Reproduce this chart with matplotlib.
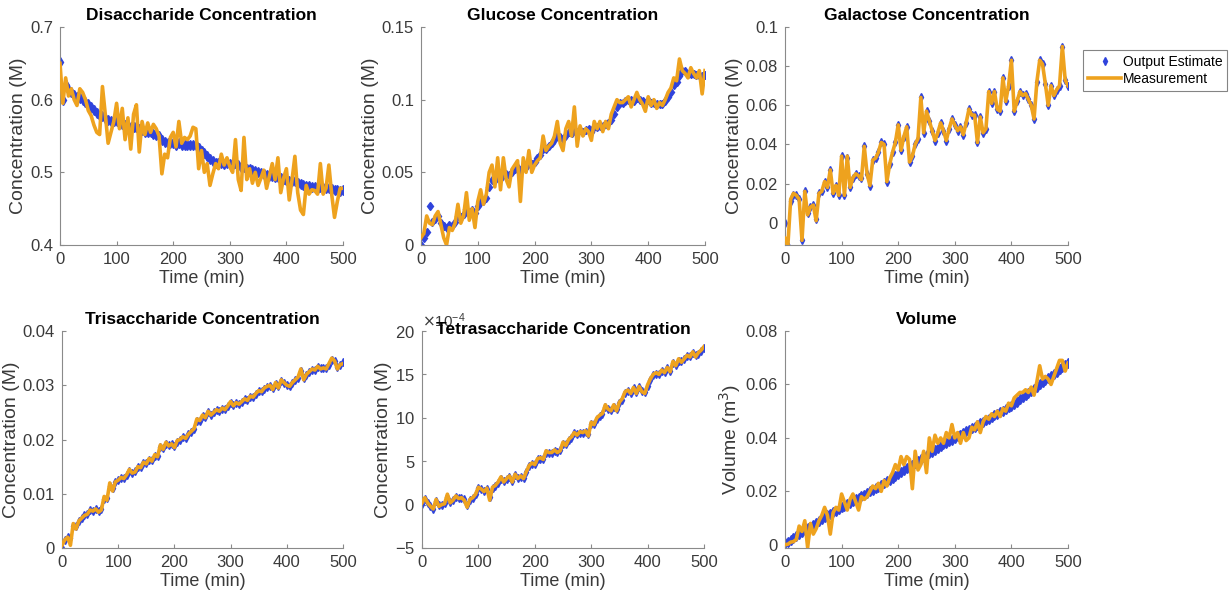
import numpy as np
import matplotlib
matplotlib.use("Agg")
import matplotlib.pyplot as plt
from matplotlib.ticker import ScalarFormatter, FormatStrFormatter

plt.rcParams["font.family"] = ["Liberation Sans", "DejaVu Sans"]

# sample times (min), one point every 5 min
time_min = np.arange(0, 505, 5)

# --- Disaccharide (M)
di_meas = [
    0.650, 0.595, 0.630, 0.605, 0.615, 0.600, 0.592, 0.615, 0.610, 0.600,
    0.585, 0.578, 0.565, 0.555, 0.552, 0.618, 0.580, 0.540, 0.555, 0.570,
    0.595, 0.560, 0.588, 0.545, 0.575, 0.532, 0.580, 0.593, 0.528, 0.570,
    0.552, 0.568, 0.555, 0.566, 0.560, 0.550, 0.498, 0.525, 0.520, 0.548,
    0.555, 0.535, 0.570, 0.540, 0.548, 0.545, 0.550, 0.562, 0.560, 0.505,
    0.530, 0.500, 0.512, 0.482, 0.498, 0.512, 0.505, 0.525, 0.510, 0.520,
    0.508, 0.500, 0.545, 0.490, 0.475, 0.548, 0.490, 0.505, 0.485, 0.500,
    0.482, 0.492, 0.503, 0.478, 0.495, 0.512, 0.490, 0.520, 0.472, 0.492,
    0.505, 0.462, 0.490, 0.522, 0.472, 0.448, 0.442, 0.482, 0.470, 0.476,
    0.475, 0.470, 0.512, 0.470, 0.478, 0.510, 0.470, 0.438, 0.460, 0.478,
    0.478,
]
di_est = [
    0.652, 0.600, 0.620, 0.615, 0.610, 0.607, 0.604, 0.602, 0.600, 0.597,
    0.594, 0.590, 0.586, 0.582, 0.578, 0.578, 0.575, 0.572, 0.570, 0.570,
    0.570, 0.568, 0.567, 0.565, 0.563, 0.562, 0.562, 0.562, 0.560, 0.558,
    0.556, 0.555, 0.555, 0.553, 0.552, 0.550, 0.545, 0.542, 0.540, 0.540,
    0.540, 0.538, 0.540, 0.538, 0.537, 0.537, 0.538, 0.538, 0.538, 0.533,
    0.530, 0.526, 0.522, 0.518, 0.515, 0.513, 0.513, 0.513, 0.512, 0.513,
    0.512, 0.512, 0.513, 0.510, 0.508, 0.508, 0.505, 0.504, 0.503, 0.502,
    0.500, 0.499, 0.498, 0.496, 0.495, 0.495, 0.494, 0.494, 0.492, 0.491,
    0.490, 0.488, 0.488, 0.488, 0.486, 0.484, 0.482, 0.481, 0.481, 0.480,
    0.480, 0.479, 0.480, 0.479, 0.479, 0.478, 0.477, 0.476, 0.476, 0.475,
    0.476,
]

# --- Glucose (M)
glu_meas = [
    0.005, 0.008, 0.020, 0.015, 0.014, 0.020, 0.023, 0.014, 0.005, 0.000,
    0.012, 0.010, 0.015, 0.028, 0.015, 0.020, 0.036, 0.017, 0.025, 0.012,
    0.030, 0.038, 0.028, 0.035, 0.050, 0.055, 0.040, 0.060, 0.038, 0.060,
    0.045, 0.040, 0.052, 0.055, 0.058, 0.030, 0.060, 0.050, 0.065, 0.050,
    0.055, 0.058, 0.060, 0.075, 0.065, 0.068, 0.070, 0.075, 0.085, 0.070,
    0.065, 0.080, 0.085, 0.075, 0.095, 0.068, 0.082, 0.075, 0.080, 0.078,
    0.072, 0.085, 0.080, 0.085, 0.078, 0.085, 0.080, 0.090, 0.095, 0.100,
    0.098, 0.098, 0.100, 0.102, 0.095, 0.100, 0.105, 0.100, 0.097, 0.092,
    0.102, 0.096, 0.100, 0.094, 0.098, 0.096, 0.100, 0.105, 0.108, 0.115,
    0.113, 0.128, 0.120, 0.118, 0.115, 0.122, 0.118, 0.115, 0.120, 0.104,
    0.120,
]
glu_est = [
    0.000, 0.005, 0.009, 0.027, 0.016, 0.018, 0.020, 0.015, 0.013, 0.012,
    0.014, 0.013, 0.016, 0.020, 0.019, 0.021, 0.025, 0.022, 0.024, 0.022,
    0.027, 0.030, 0.030, 0.032, 0.040, 0.045, 0.045, 0.048, 0.046, 0.050,
    0.049, 0.048, 0.050, 0.052, 0.053, 0.050, 0.054, 0.054, 0.057, 0.056,
    0.057, 0.060, 0.062, 0.066, 0.066, 0.068, 0.070, 0.072, 0.075, 0.074,
    0.073, 0.076, 0.078, 0.077, 0.080, 0.077, 0.079, 0.078, 0.079, 0.080,
    0.078, 0.081, 0.081, 0.082, 0.082, 0.083, 0.084, 0.086, 0.090, 0.095,
    0.098, 0.098, 0.099, 0.100, 0.100, 0.099, 0.101, 0.100, 0.099, 0.098,
    0.100, 0.098, 0.098, 0.097, 0.097, 0.097, 0.099, 0.102, 0.105, 0.110,
    0.112, 0.116, 0.120, 0.120, 0.118, 0.118, 0.118, 0.117, 0.117, 0.116,
    0.117,
]

# --- Galactose (M)
gal_meas = [
    -0.008, -0.012, 0.012, 0.015, 0.014, 0.012, -0.009, 0.016, 0.004, 0.008,
    0.009, 0.001, 0.015, 0.016, 0.021, 0.018, 0.027, 0.015, 0.019, 0.014,
    0.034, 0.014, 0.034, 0.018, 0.023, 0.025, 0.024, 0.022, 0.039, 0.025,
    0.019, 0.032, 0.033, 0.036, 0.041, 0.040, 0.021, 0.030, 0.036, 0.041,
    0.050, 0.037, 0.044, 0.049, 0.031, 0.034, 0.040, 0.043, 0.064, 0.046,
    0.057, 0.052, 0.047, 0.042, 0.046, 0.051, 0.047, 0.042, 0.048, 0.053,
    0.050, 0.047, 0.049, 0.045, 0.051, 0.058, 0.055, 0.055, 0.041, 0.054,
    0.046, 0.048, 0.067, 0.061, 0.067, 0.058, 0.057, 0.074, 0.062, 0.070,
    0.083, 0.057, 0.062, 0.067, 0.065, 0.066, 0.063, 0.060, 0.053, 0.072,
    0.083, 0.081, 0.071, 0.060, 0.070, 0.065, 0.068, 0.070, 0.090, 0.073,
    0.070,
]
gal_est = [
    0.000, -0.012, 0.011, 0.014, 0.014, 0.012, -0.009, 0.016, 0.005, 0.008,
    0.009, 0.002, 0.015, 0.016, 0.021, 0.018, 0.027, 0.015, 0.019, 0.014,
    0.034, 0.014, 0.033, 0.018, 0.023, 0.025, 0.024, 0.023, 0.039, 0.025,
    0.019, 0.032, 0.033, 0.036, 0.041, 0.040, 0.021, 0.030, 0.036, 0.041,
    0.050, 0.037, 0.044, 0.049, 0.031, 0.034, 0.040, 0.043, 0.064, 0.046,
    0.057, 0.052, 0.047, 0.042, 0.046, 0.051, 0.047, 0.042, 0.048, 0.053,
    0.050, 0.047, 0.049, 0.045, 0.051, 0.058, 0.055, 0.055, 0.041, 0.054,
    0.046, 0.048, 0.067, 0.061, 0.067, 0.058, 0.057, 0.074, 0.062, 0.070,
    0.083, 0.057, 0.062, 0.067, 0.065, 0.066, 0.063, 0.060, 0.053, 0.072,
    0.083, 0.081, 0.071, 0.060, 0.070, 0.065, 0.068, 0.070, 0.090, 0.073,
    0.070,
]

# --- Trisaccharide (M)
tri_meas = [
    0.0005, 0.0015, 0.0020, 0.0005, 0.0045, 0.0035, 0.0050, 0.0055, 0.0060, 0.0062,
    0.0070, 0.0068, 0.0072, 0.0066, 0.0070, 0.0095, 0.0088, 0.0120, 0.0105, 0.0122,
    0.0125, 0.0130, 0.0128, 0.0135, 0.0145, 0.0138, 0.0140, 0.0150, 0.0148, 0.0158,
    0.0155, 0.0165, 0.0160, 0.0172, 0.0168, 0.0190, 0.0182, 0.0195, 0.0188, 0.0192,
    0.0185, 0.0198, 0.0200, 0.0205, 0.0202, 0.0210, 0.0215, 0.0220, 0.0238, 0.0235,
    0.0245, 0.0240, 0.0252, 0.0245, 0.0250, 0.0255, 0.0252, 0.0258, 0.0255, 0.0262,
    0.0270, 0.0262, 0.0268, 0.0265, 0.0270, 0.0275, 0.0272, 0.0280, 0.0278, 0.0285,
    0.0290, 0.0288, 0.0295, 0.0298, 0.0300, 0.0292, 0.0305, 0.0295, 0.0310, 0.0305,
    0.0300, 0.0298, 0.0305, 0.0310, 0.0315, 0.0330, 0.0310, 0.0320, 0.0325, 0.0330,
    0.0328, 0.0335, 0.0330, 0.0332, 0.0330, 0.0340, 0.0350, 0.0345, 0.0330, 0.0338,
    0.0340,
]
tri_est = [
    0.0000, 0.0014, 0.0020, 0.0018, 0.0040, 0.0040, 0.0050, 0.0055, 0.0060, 0.0063,
    0.0070, 0.0069, 0.0071, 0.0068, 0.0071, 0.0090, 0.0092, 0.0115, 0.0110, 0.0121,
    0.0125, 0.0129, 0.0129, 0.0134, 0.0142, 0.0139, 0.0142, 0.0149, 0.0149, 0.0156,
    0.0156, 0.0163, 0.0162, 0.0170, 0.0170, 0.0186, 0.0184, 0.0192, 0.0189, 0.0191,
    0.0188, 0.0196, 0.0200, 0.0204, 0.0203, 0.0210, 0.0214, 0.0220, 0.0234, 0.0235,
    0.0243, 0.0242, 0.0250, 0.0246, 0.0250, 0.0254, 0.0253, 0.0257, 0.0256, 0.0262,
    0.0268, 0.0264, 0.0267, 0.0266, 0.0270, 0.0274, 0.0273, 0.0279, 0.0279, 0.0284,
    0.0289, 0.0289, 0.0294, 0.0297, 0.0299, 0.0295, 0.0303, 0.0298, 0.0307, 0.0305,
    0.0301, 0.0299, 0.0304, 0.0309, 0.0314, 0.0326, 0.0314, 0.0319, 0.0324, 0.0329,
    0.0328, 0.0333, 0.0331, 0.0332, 0.0331, 0.0338, 0.0346, 0.0344, 0.0333, 0.0338,
    0.0342,
]

# --- Tetrasaccharide, in units of 1e-4 M
tetra_meas_e4 = [
    0.2, 0.8, 0.2, -0.2, -0.5, 0.6, -0.2, 0.0, 0.1, 1.2,
    0.2, 0.5, 1.0, 0.7, 0.8, 0.5, -0.3, 0.6, 0.8, 1.2,
    2.0, 1.8, 1.5, 1.9, 0.5, 2.0, 2.2, 2.6, 3.2, 2.6,
    3.0, 3.3, 2.6, 3.5, 3.0, 3.3, 3.0, 3.8, 4.5, 4.8,
    4.6, 5.3, 5.4, 5.2, 6.2, 6.0, 6.0, 6.3, 6.0, 6.2,
    7.2, 6.8, 7.5, 7.8, 8.3, 8.0, 8.4, 8.3, 8.5, 7.9,
    9.5, 9.2, 10.0, 10.3, 10.5, 11.5, 11.0, 10.8, 11.5, 10.8,
    11.8, 12.2, 13.0, 13.2, 12.8, 13.5, 12.8, 13.6, 13.0, 12.8,
    13.8, 14.5, 15.0, 15.2, 15.0, 15.5, 15.2, 15.8, 15.3, 16.5,
    16.0, 16.8, 16.4, 16.8, 17.2, 17.0, 17.6, 17.0, 17.5, 17.8,
    18.2,
]
tetra_est_e4 = [
    0.1, 0.6, 0.2, -0.2, -0.5, 0.4, -0.1, 0.0, 0.2, 0.9,
    0.3, 0.5, 0.9, 0.8, 0.8, 0.6, 0.0, 0.5, 0.8, 1.2,
    1.9, 1.8, 1.6, 1.8, 0.9, 1.9, 2.1, 2.5, 3.0, 2.7,
    2.9, 3.2, 2.7, 3.4, 3.1, 3.2, 3.1, 3.7, 4.4, 4.7,
    4.7, 5.2, 5.3, 5.3, 6.0, 6.0, 6.0, 6.2, 6.1, 6.3,
    7.0, 7.0, 7.4, 7.7, 8.2, 8.1, 8.3, 8.3, 8.4, 8.1,
    9.3, 9.3, 9.9, 10.2, 10.4, 11.2, 11.0, 10.9, 11.3, 11.0,
    11.7, 12.1, 12.9, 13.1, 12.9, 13.4, 13.0, 13.5, 13.1, 13.0,
    13.7, 14.4, 14.9, 15.1, 15.1, 15.4, 15.3, 15.7, 15.4, 16.3,
    16.1, 16.6, 16.5, 16.8, 17.1, 17.1, 17.5, 17.2, 17.4, 17.7,
    18.0,
]

# --- Volume (m^3)
vol_meas = [
    0.0000, 0.0002, 0.0010, 0.0012, 0.0020, 0.0070, 0.0050, 0.0090, -0.0010, 0.0080,
    0.0040, 0.0060, 0.0090, 0.0110, 0.0140, 0.0110, 0.0040, 0.0120, 0.0140, 0.0130,
    0.0190, 0.0160, 0.0130, 0.0170, 0.0190, 0.0160, 0.0130, 0.0180, 0.0170, 0.0180,
    0.0200, 0.0220, 0.0210, 0.0230, 0.0200, 0.0240, 0.0220, 0.0250, 0.0270, 0.0300,
    0.0280, 0.0330, 0.0300, 0.0330, 0.0320, 0.0210, 0.0350, 0.0280, 0.0300, 0.0350,
    0.0270, 0.0400, 0.0350, 0.0410, 0.0380, 0.0400, 0.0380, 0.0420, 0.0400, 0.0450,
    0.0400, 0.0420, 0.0380, 0.0420, 0.0390, 0.0400, 0.0440, 0.0430, 0.0460, 0.0420,
    0.0460, 0.0480, 0.0470, 0.0490, 0.0480, 0.0500, 0.0480, 0.0510, 0.0500, 0.0530,
    0.0520, 0.0550, 0.0560, 0.0570, 0.0570, 0.0580, 0.0570, 0.0590, 0.0560, 0.0610,
    0.0670, 0.0620, 0.0630, 0.0620, 0.0600, 0.0630, 0.0660, 0.0690, 0.0690, 0.0650,
    0.0680,
]
vol_est = [
    0.0005, 0.0012, 0.0019, 0.0026, 0.0033, 0.0040, 0.0047, 0.0054, 0.0061, 0.0068,
    0.0075, 0.0082, 0.0089, 0.0096, 0.0103, 0.0110, 0.0116, 0.0122, 0.0128, 0.0134,
    0.0140, 0.0146, 0.0152, 0.0158, 0.0164, 0.0170, 0.0176, 0.0182, 0.0188, 0.0194,
    0.0200, 0.0206, 0.0212, 0.0218, 0.0224, 0.0230, 0.0237, 0.0244, 0.0251, 0.0258,
    0.0265, 0.0272, 0.0279, 0.0286, 0.0293, 0.0300, 0.0307, 0.0314, 0.0321, 0.0328,
    0.0335, 0.0342, 0.0349, 0.0356, 0.0363, 0.0370, 0.0376, 0.0382, 0.0388, 0.0394,
    0.0400, 0.0406, 0.0412, 0.0418, 0.0424, 0.0430, 0.0436, 0.0442, 0.0448, 0.0454,
    0.0460, 0.0466, 0.0472, 0.0478, 0.0484, 0.0490, 0.0496, 0.0502, 0.0508, 0.0514,
    0.0520, 0.0528, 0.0536, 0.0544, 0.0552, 0.0560, 0.0568, 0.0576, 0.0584, 0.0592,
    0.0600, 0.0608, 0.0616, 0.0624, 0.0632, 0.0640, 0.0648, 0.0656, 0.0664, 0.0672,
    0.0680,
]

EST_COLOR = "#2f43dc"
MEAS_COLOR = "#eea21e"
AXIS_COLOR = "#8a8a8a"
TEXT_COLOR = "#3a3a3a"

W, H = 1231, 601
fig = plt.figure(figsize=(W / 100, H / 100), dpi=100)


def rect(l, r, t, b):
    return [l / W, 1 - b / H, (r - l) / W, (b - t) / H]


panels = [
    # title, est, meas, ylim, yticks, ylabel, axes rect (px), marker size
    ("Disaccharide Concentration", di_est, di_meas, (0.4, 0.7),
     [0.4, 0.5, 0.6, 0.7], "Concentration (M)", rect(60, 343, 27, 245), 5),
    ("Glucose Concentration", glu_est, glu_meas, (0.0, 0.15),
     [0, 0.05, 0.1, 0.15], "Concentration (M)", rect(421, 705, 27, 245), 4.5),
    ("Galactose Concentration", gal_est, gal_meas, (-0.0114, 0.1),
     [0, 0.02, 0.04, 0.06, 0.08, 0.1], "Concentration (M)", rect(785, 1068, 27, 245), 4),
    ("Trisaccharide Concentration", tri_est, tri_meas, (0.0, 0.04),
     [0, 0.01, 0.02, 0.03, 0.04], "Concentration (M)", rect(62, 343, 331, 548), 4),
    ("Tetrasaccharide Concentration", np.array(tetra_est_e4) * 1e-4,
     np.array(tetra_meas_e4) * 1e-4, (-5e-4, 20e-4),
     [-5e-4, 0, 5e-4, 10e-4, 15e-4, 20e-4], "Concentration (M)", rect(422, 704, 331, 548), 4),
    ("Volume", vol_est, vol_meas, (-0.0012, 0.08),
     [0, 0.02, 0.04, 0.06, 0.08], "Volume (m$^3$)", rect(785, 1068, 331, 548), 5),
]

axes = []
for i, (title, est, meas, ylim, yticks, ylabel, r, ms) in enumerate(panels):
    ax = fig.add_axes(r)
    axes.append(ax)
    ax.plot(time_min, est, linestyle="none", marker="d", markersize=ms,
            color=EST_COLOR, label="Output Estimate", zorder=2)
    ax.plot(time_min, meas, color=MEAS_COLOR, linewidth=2.6,
            label="Measurement", zorder=3)
    ax.set_xlim(0, 500)
    ax.set_ylim(*ylim)
    ax.set_xticks([0, 100, 200, 300, 400, 500])
    ax.set_yticks(yticks)
    if i == 4:
        fmt = ScalarFormatter(useMathText=True)
        fmt.set_powerlimits((-4, -4))
        ax.yaxis.set_major_formatter(fmt)
        ax.yaxis.get_offset_text().set_fontsize(11)
        ax.yaxis.get_offset_text().set_color(TEXT_COLOR)
        ax.set_title(title, fontsize=12.5, fontweight="bold", y=0.985, pad=0)
    else:
        ax.yaxis.set_major_formatter(FormatStrFormatter("%g"))
        ax.set_title(title, fontsize=12.5, fontweight="bold", pad=5)
    for side in ("top", "right"):
        ax.spines[side].set_visible(False)
    for side in ("left", "bottom"):
        ax.spines[side].set_color(AXIS_COLOR)
        ax.spines[side].set_linewidth(0.8)
    ax.tick_params(direction="in", length=3, width=0.8, color=AXIS_COLOR,
                   labelsize=12, labelcolor=TEXT_COLOR, pad=5)
    ax.set_xlabel("Time (min)", fontsize=13, color=TEXT_COLOR, labelpad=2)
    ax.set_ylabel(ylabel, fontsize=14, color=TEXT_COLOR, labelpad=2)

handles, labels = axes[2].get_legend_handles_labels()
leg = fig.legend(handles, labels, loc="upper left",
                 bbox_to_anchor=(1083 / W, 1 - 50 / H), bbox_transform=fig.transFigure,
                 fontsize=10, frameon=True, fancybox=False, borderaxespad=0,
                 borderpad=0.35, handlelength=2.4, handletextpad=0.1,
                 labelspacing=0.25)
leg.get_frame().set_edgecolor("#666666")
leg.get_frame().set_linewidth(0.8)

fig.savefig("out.png", dpi=100)
